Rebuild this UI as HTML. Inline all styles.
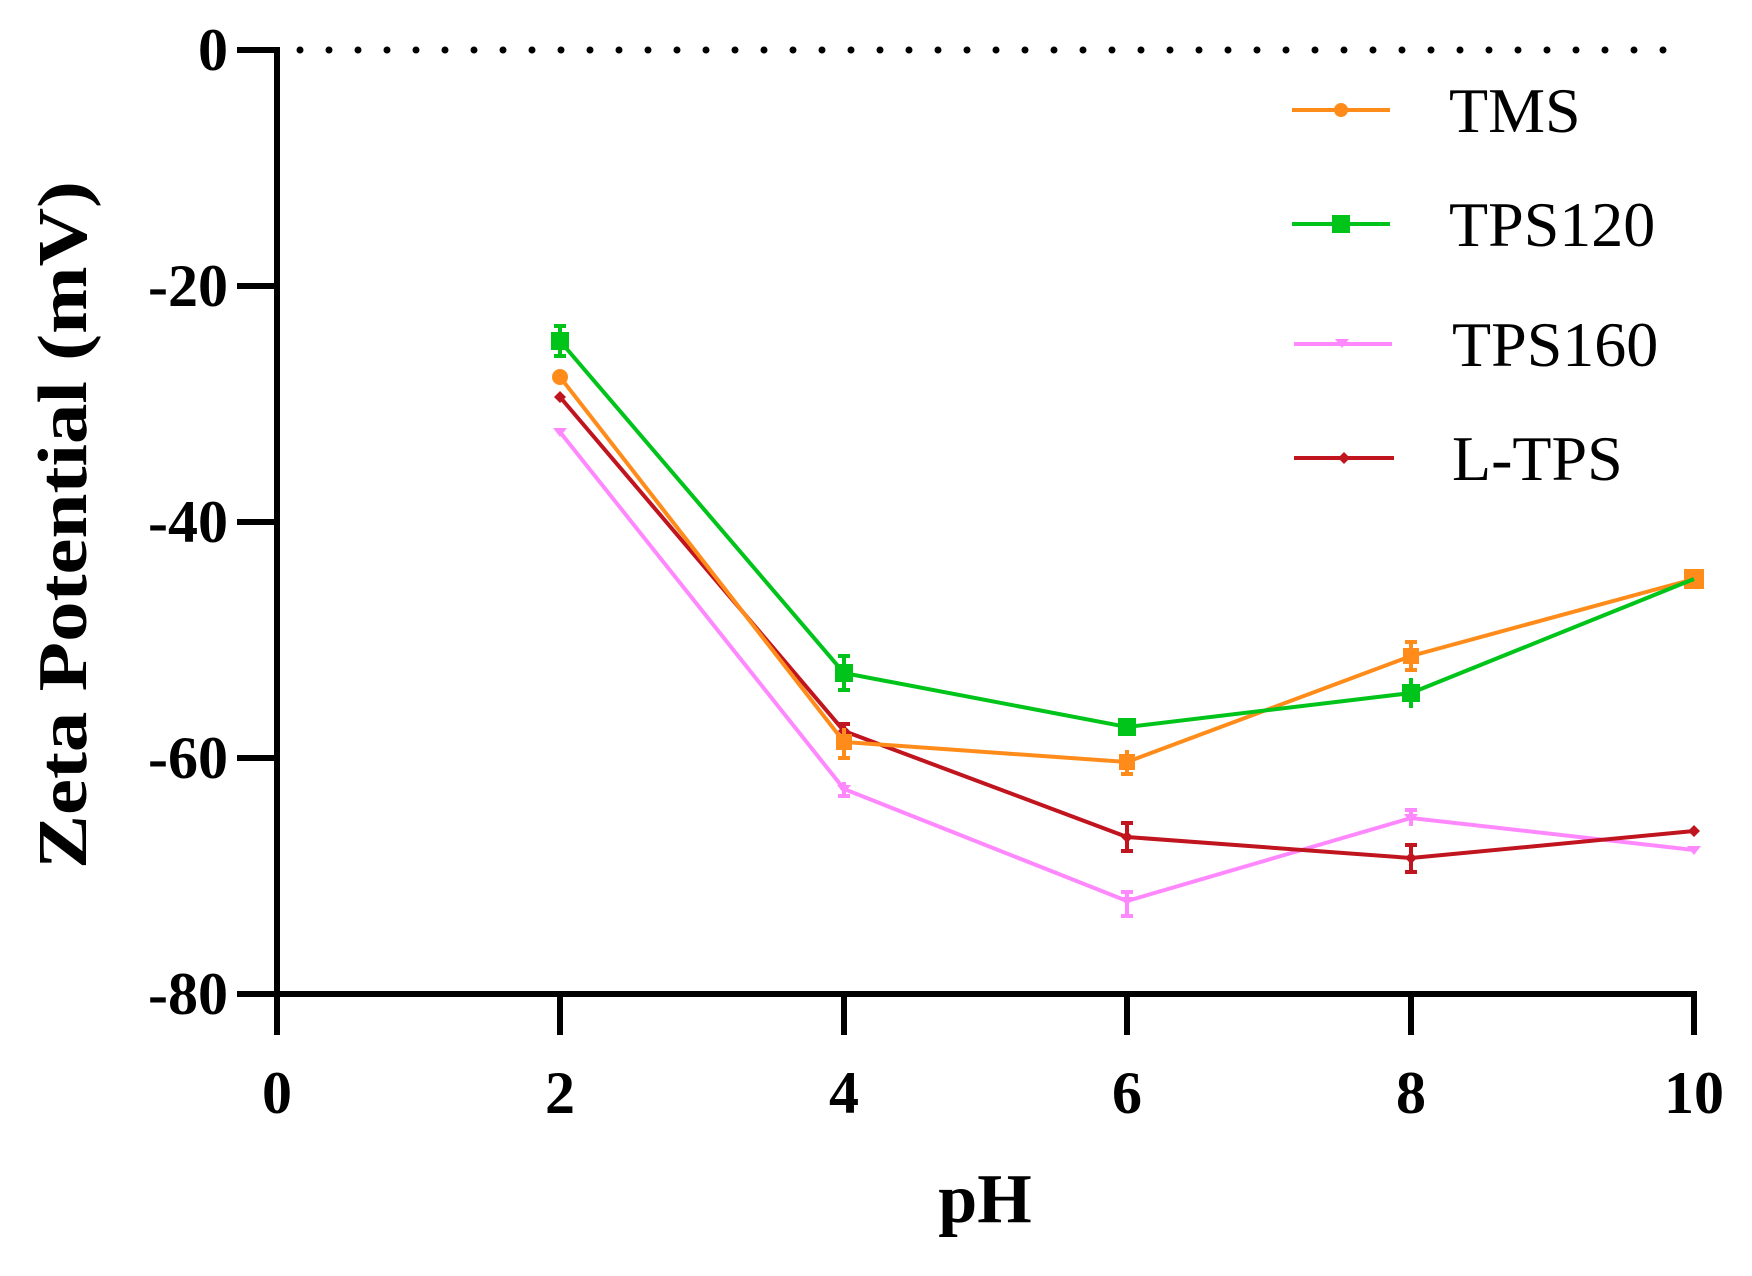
<!DOCTYPE html>
<html><head><meta charset="utf-8"><style>body{margin:0;background:#fff}svg{display:block}text{font-family:"Liberation Serif","Times New Roman",serif}</style></head>
<body>
<svg width="1752" height="1276" viewBox="0 0 1752 1276" xmlns="http://www.w3.org/2000/svg">
<rect width="1752" height="1276" fill="#fff"/>
<line x1="300" y1="50" x2="1672" y2="50" stroke="#000" stroke-width="7" stroke-linecap="round" stroke-dasharray="0 29"/>
<g stroke="#000" stroke-width="6" fill="none">
<line x1="277" y1="47" x2="277" y2="1035"/>
<line x1="274" y1="994" x2="1697" y2="994"/>
<line x1="237" y1="50" x2="277" y2="50"/>
<line x1="237" y1="286" x2="277" y2="286"/>
<line x1="237" y1="522" x2="277" y2="522"/>
<line x1="237" y1="758" x2="277" y2="758"/>
<line x1="237" y1="994" x2="277" y2="994"/>
<line x1="560" y1="994" x2="560" y2="1035"/>
<line x1="844" y1="994" x2="844" y2="1035"/>
<line x1="1127" y1="994" x2="1127" y2="1035"/>
<line x1="1411" y1="994" x2="1411" y2="1035"/>
<line x1="1694" y1="994" x2="1694" y2="1035"/>
</g>
<g font-size="60" font-weight="bold" text-anchor="end">
<text x="228" y="70">0</text>
<text x="228" y="306">-20</text>
<text x="228" y="542">-40</text>
<text x="228" y="778">-60</text>
<text x="228" y="1014">-80</text>
</g>
<g font-size="60" font-weight="bold" text-anchor="middle">
<text x="277" y="1113">0</text>
<text x="560" y="1113">2</text>
<text x="844" y="1113">4</text>
<text x="1127" y="1113">6</text>
<text x="1411" y="1113">8</text>
<text x="1694" y="1113">10</text>
</g>
<text x="985" y="1222" font-size="70" font-weight="bold" text-anchor="middle">pH</text>
<text transform="translate(86,525) rotate(-90)" font-size="70" font-weight="bold" text-anchor="middle" textLength="688" lengthAdjust="spacingAndGlyphs">Zeta Potential (mV)</text>

<!-- TPS160 -->
<g stroke="#ff88ff" stroke-width="4" fill="#ff88ff">
<polyline fill="none" points="560,432 844,789 1127,901 1411,818 1694,850"/>
<path d="M553,428h14l-7,9z M837,785h14l-7,9z M1120,897h14l-7,9z M1404,814h14l-7,9z M1687,846h14l-7,9z" stroke="none"/>
<line x1="844" y1="782" x2="844" y2="796"/><line x1="838" y1="796" x2="850" y2="796"/>
<line x1="1127" y1="892" x2="1127" y2="916"/><line x1="1121" y1="916" x2="1133" y2="916"/><line x1="1121" y1="892" x2="1133" y2="892"/>
<line x1="1411" y1="810" x2="1411" y2="826"/><line x1="1405" y1="810" x2="1417" y2="810"/>
</g>
<!-- L-TPS -->
<g stroke="#c0141e" stroke-width="4" fill="#c0141e">
<polyline fill="none" points="560,397 844,731 1127,837 1411,858 1694,831"/>
<line x1="844" y1="724" x2="844" y2="738"/><line x1="838" y1="724" x2="850" y2="724"/>
<line x1="1127" y1="823" x2="1127" y2="851"/><line x1="1121" y1="823" x2="1133" y2="823"/><line x1="1121" y1="851" x2="1133" y2="851"/>
<line x1="1411" y1="845" x2="1411" y2="872"/><line x1="1405" y1="845" x2="1417" y2="845"/><line x1="1405" y1="872" x2="1417" y2="872"/>
<path d="M560,391l6,6l-6,6l-6-6z M844,725l6,6l-6,6l-6-6z M1127,831l6,6l-6,6l-6-6z M1411,852l6,6l-6,6l-6-6z M1694,825l6,6l-6,6l-6-6z" stroke="none"/>
</g>
<!-- TMS -->
<g stroke="#ff8c1a" stroke-width="4" fill="#ff8c1a">
<polyline fill="none" points="560,377 844,742 1127,762 1411,656 1694,579"/>
<circle cx="560" cy="377" r="8" stroke="none"/>
<rect x="836" y="734" width="16" height="16" stroke="none"/>
<line x1="844" y1="728" x2="844" y2="758"/><line x1="838" y1="758" x2="850" y2="758"/>
<rect x="1119" y="754" width="16" height="16" stroke="none"/>
<line x1="1127" y1="750" x2="1127" y2="774"/><line x1="1121" y1="774" x2="1133" y2="774"/>
<rect x="1403" y="648" width="16" height="16" stroke="none"/>
<line x1="1411" y1="642" x2="1411" y2="670"/><line x1="1405" y1="642" x2="1417" y2="642"/><line x1="1405" y1="670" x2="1417" y2="670"/>
<rect x="1684" y="569" width="20" height="20" stroke="none"/>
</g>
<!-- TPS120 -->
<g stroke="#00c41a" stroke-width="4" fill="#00c41a">
<polyline fill="none" points="560,341 844,673 1127,727 1411,693 1694,579"/>
<rect x="551" y="332" width="18" height="18" stroke="none"/>
<line x1="560" y1="326" x2="560" y2="356"/><line x1="554" y1="326" x2="566" y2="326"/><line x1="554" y1="356" x2="566" y2="356"/>
<rect x="835" y="664" width="18" height="18" stroke="none"/>
<line x1="844" y1="656" x2="844" y2="690"/><line x1="838" y1="656" x2="850" y2="656"/><line x1="838" y1="690" x2="850" y2="690"/>
<rect x="1118" y="718" width="18" height="18" stroke="none"/>
<rect x="1402" y="684" width="18" height="18" stroke="none"/>
<line x1="1411" y1="678" x2="1411" y2="708"/>
</g>
<!-- legend -->
<g stroke-width="4">
<line x1="1292" y1="110" x2="1390" y2="110" stroke="#ff8c1a"/><circle cx="1341" cy="110" r="7" fill="#ff8c1a"/>
<line x1="1292" y1="224" x2="1390" y2="224" stroke="#00c41a"/><rect x="1332" y="215" width="18" height="18" fill="#00c41a"/>
<line x1="1294" y1="344" x2="1392" y2="344" stroke="#ff88ff"/><path d="M1335,339h14l-7,9z" fill="#ff88ff"/>
<line x1="1294" y1="458" x2="1394" y2="458" stroke="#c0141e"/><path d="M1344,452l6,6l-6,6l-6-6z" fill="#c0141e"/>
</g>
<g font-size="64">
<text x="1449" y="132">TMS</text>
<text x="1449" y="246">TPS120</text>
<text x="1452" y="366">TPS160</text>
<text x="1452" y="480">L-TPS</text>
</g>
</svg>
</body></html>
